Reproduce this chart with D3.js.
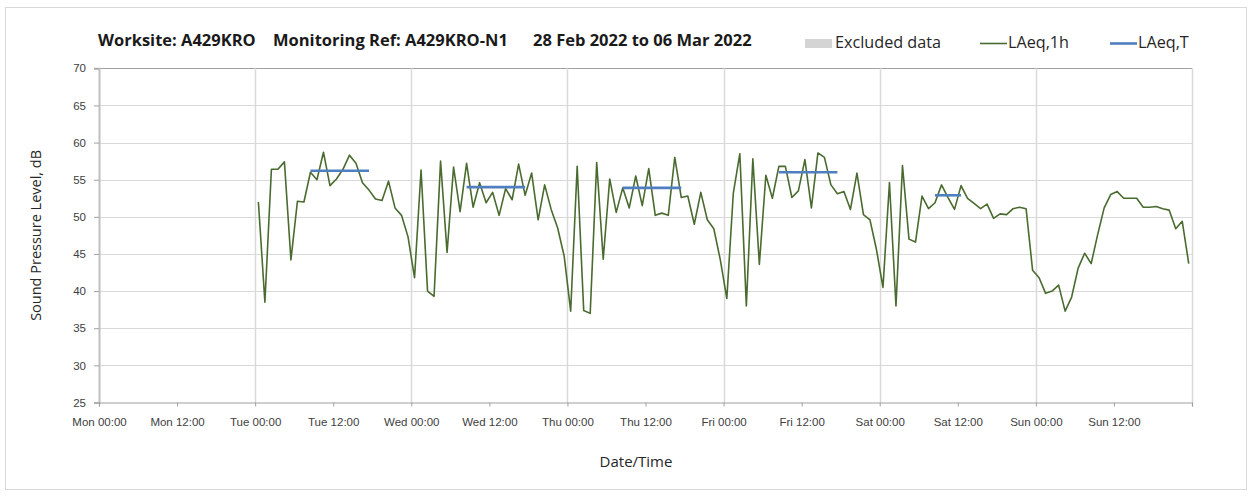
<!DOCTYPE html>
<html>
<head>
<meta charset="utf-8">
<script src="https://cdn.jsdelivr.net/npm/d3@7"></script>
<style>
  body { margin: 0; background: #fff; }
  svg { display: block; font-family: "Open Sans", Lato, sans-serif; }
</style>
</head>
<body>
<svg id="chart" width="1253" height="497"></svg>
<script>
// hourly LAeq,1h values, Tue 00:30 .. Sun 23:30 (plotted mid-hour)
var laeq1h = [
  52.0, 38.5, 56.4, 56.4, 57.4, 44.2, 52.1, 52.0, 56.0, 55.0, 58.7, 54.2,
  55.1, 56.4, 58.3, 57.2, 54.6, 53.6, 52.4, 52.2, 54.8, 51.2, 50.2, 47.3,
  41.8, 56.3, 40.0, 39.3, 57.5, 45.2, 56.7, 50.7, 57.2, 51.3, 54.6, 51.9,
  53.3, 50.2, 53.8, 52.3, 57.1, 52.9, 55.9, 49.6, 54.3, 51.0, 48.5, 44.7,
  37.3, 56.8, 37.4, 37.0, 57.3, 44.3, 55.1, 50.6, 53.9, 51.2, 55.5, 51.5,
  56.5, 50.2, 50.5, 50.2, 58.0, 52.6, 52.8, 49.0, 53.3, 49.6, 48.4, 44.2,
  39.0, 53.2, 58.5, 38.0, 57.8, 43.6, 55.6, 52.5, 56.8, 56.8, 52.6, 53.5,
  57.7, 51.2, 58.6, 58.0, 54.3, 53.1, 53.4, 51.0, 55.9, 50.3, 49.6, 45.6,
  40.5, 54.6, 38.0, 56.9, 47.0, 46.6, 52.8, 51.1, 51.9, 54.3, 52.6, 51.0,
  54.2, 52.5, 51.8, 51.1, 51.7, 49.8, 50.4, 50.3, 51.1, 51.3, 51.1, 42.8,
  41.8, 39.7, 40.0, 40.8, 37.3, 39.2, 43.1, 45.1, 43.7, 47.6, 51.2, 53.0,
  53.4, 52.5, 52.5, 52.5, 51.3, 51.3, 51.4, 51.1, 50.9, 48.4, 49.4, 43.7
];
var firstHour = 24.5;   // hours after Mon 00:00

// LAeq,T daytime periods: [start hour, end hour, level]
var laeqT = [
  [32.5, 41.5, 56.2],
  [56.5, 65.5, 54.0],
  [80.5, 89.5, 53.9],
  [104.5, 113.5, 56.0],
  [128.5, 132.5, 52.9]
];

var tickLabels = ["Mon 00:00", "Mon 12:00", "Tue 00:00", "Tue 12:00", "Wed 00:00", "Wed 12:00",
  "Thu 00:00", "Thu 12:00", "Fri 00:00", "Fri 12:00", "Sat 00:00", "Sat 12:00", "Sun 00:00", "Sun 12:00"];
var yTicks = [25, 30, 35, 40, 45, 50, 55, 60, 65, 70];
var titleParts = ["Worksite: A429KRO", "Monitoring Ref: A429KRO-N1", "28 Feb 2022 to 06 Mar 2022"];

var svg = d3.select("#chart");

// outer frame
svg.append("rect").attr("x", 5.5).attr("y", 7.5).attr("width", 1241).attr("height", 482)
  .attr("fill", "#fff").attr("stroke", "#d9d9d9");

var x = d3.scaleLinear().domain([0, 168]).range([99, 1192]);
var y = d3.scaleLinear().domain([25, 70]).range([402.5, 68.3]);

// gridlines
svg.append("g").selectAll("line").data(yTicks.slice(1)).enter().append("line")
  .attr("x1", x(0)).attr("x2", x(168))
  .attr("y1", function(d) { return Math.round(y(d)) + 0.5; })
  .attr("y2", function(d) { return Math.round(y(d)) + 0.5; })
  .attr("stroke", function(d) { return d == 70 ? "#a0a0a0" : "#d9d9d9"; })
  .attr("stroke-width", 1.2);

svg.append("g").selectAll("line").data([24, 48, 72, 96, 120, 144, 168]).enter().append("line")
  .attr("x1", function(d) { return Math.round(x(d)) + 0.5; })
  .attr("x2", function(d) { return Math.round(x(d)) + 0.5; })
  .attr("y1", y(70)).attr("y2", y(25))
  .attr("stroke", "#d9d9d9").attr("stroke-width", 1.5);

// y axis
var yAxis = svg.append("g").attr("transform", "translate(" + x(0) + ",0)")
  .call(d3.axisLeft(y).tickValues(yTicks).tickSize(5).tickPadding(8));
yAxis.select(".domain").attr("stroke", "#bfbfbf").attr("stroke-width", 2);
yAxis.selectAll(".tick line").attr("stroke", "#a0a0a0");
yAxis.selectAll("text").attr("font-size", 11.5).attr("fill", "#404040");

// x axis
var xAxis = svg.append("g").attr("transform", "translate(0," + y(25) + ")")
  .call(d3.axisBottom(x).tickValues(d3.range(0, 169, 12)).tickSize(4).tickPadding(11)
    .tickFormat(function(d, i) { return tickLabels[i] || ""; }));
xAxis.select(".domain").attr("stroke", "#a0a0a0").attr("stroke-width", 1.2);
xAxis.selectAll(".tick line").attr("stroke", "#a0a0a0");
xAxis.selectAll("text").attr("font-size", 11.5).attr("fill", "#404040");

// LAeq,1h line
var line = d3.line()
  .x(function(d, i) { return x(firstHour + i); })
  .y(function(d) { return y(d); });
svg.append("path").datum(laeq1h).attr("d", line)
  .attr("fill", "none").attr("stroke", "#4a6b2f").attr("stroke-width", 1.6)
  .attr("stroke-linejoin", "round");

// LAeq,T lines
svg.append("g").selectAll("line").data(laeqT).enter().append("line")
  .attr("x1", function(d) { return x(d[0]); })
  .attr("x2", function(d) { return x(d[1]); })
  .attr("y1", function(d) { return y(d[2]); })
  .attr("y2", function(d) { return y(d[2]); })
  .attr("stroke", "#4f7fbf").attr("stroke-width", 2.6);

// title
svg.append("g").selectAll("text").data(titleParts).enter().append("text")
  .attr("x", function(d, i) { return [98, 273, 533][i]; })
  .attr("y", 46).attr("font-size", 16.5).attr("font-weight", "bold").attr("fill", "#1a1a1a")
  .text(function(d) { return d; });

// legend
svg.append("rect").attr("x", 805).attr("y", 39).attr("width", 27).attr("height", 9).attr("fill", "#d4d4d4");
svg.append("text").attr("x", 835).attr("y", 48).attr("font-size", 16.2).attr("fill", "#262626").text("Excluded data");
svg.append("line").attr("x1", 980).attr("x2", 1007).attr("y1", 43.5).attr("y2", 43.5)
  .attr("stroke", "#4a6b2f").attr("stroke-width", 1.6);
svg.append("text").attr("x", 1008).attr("y", 48).attr("font-size", 16.2).attr("fill", "#262626").text("LAeq,1h");
svg.append("line").attr("x1", 1110).attr("x2", 1137).attr("y1", 43.5).attr("y2", 43.5)
  .attr("stroke", "#4f7fbf").attr("stroke-width", 2.6);
svg.append("text").attr("x", 1138).attr("y", 48).attr("font-size", 16.2).attr("fill", "#262626").text("LAeq,T");

// axis titles
svg.append("text").attr("transform", "translate(41," + y(47.5) + ") rotate(-90)")
  .attr("text-anchor", "middle").attr("font-size", 14.5).attr("fill", "#262626")
  .text("Sound Pressure Level, dB");
svg.append("text").attr("x", 636).attr("y", 467).attr("text-anchor", "middle")
  .attr("font-size", 15).attr("fill", "#262626").text("Date/Time");
</script>
</body>
</html>
